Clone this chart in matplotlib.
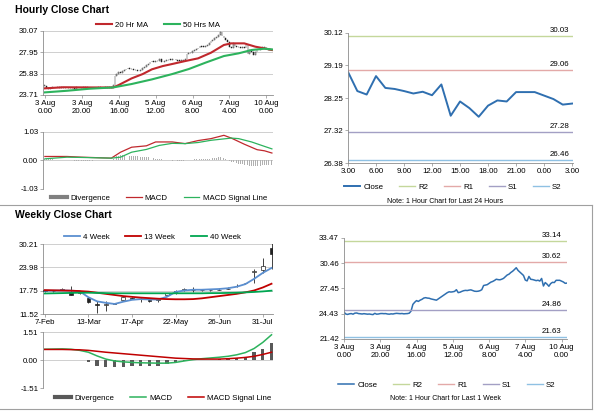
import numpy as np
import matplotlib
matplotlib.use("Agg")
from matplotlib import pyplot as plt
from matplotlib.lines import Line2D

plt.rcParams['font.family'] = ['Liberation Sans', 'DejaVu Sans']

# ---- hourly data (3 Aug 0.00 .. 10 Aug 3.00) ----
close = [
    24.62, 24.40, 24.35, 24.42, 24.45, 24.38, 24.50, 24.52, 24.45, 24.43,
    24.40, 24.44, 24.41, 24.38, 24.40, 24.36, 24.33, 24.48, 24.38, 24.40,
    24.45, 24.46, 24.44, 24.45, 24.40, 24.38, 24.42, 24.40, 24.45, 24.48,
    24.46, 24.44, 24.46, 24.42, 24.44, 24.45, 24.50, 24.75, 25.55, 25.80,
    26.00, 25.90, 26.05, 26.15, 26.30, 26.35, 26.30, 26.28, 26.20, 26.15,
    26.10, 26.05, 26.20, 26.35, 26.50, 26.65, 26.80, 26.95, 27.05, 27.02,
    27.05, 27.10, 27.30, 26.95, 27.00, 27.10, 27.18, 27.22, 27.20, 27.25,
    27.28, 27.20, 27.12, 27.10, 27.12, 27.18, 27.30, 27.80, 27.85, 27.90,
    28.05, 28.20, 28.28, 28.40, 28.55, 28.50, 28.48, 28.55, 28.65, 28.85,
    29.05, 29.15, 29.35, 29.50, 29.70, 29.92, 29.60, 29.40, 29.20, 29.00,
    28.45, 28.35, 28.88, 28.54, 28.51, 28.45, 28.38, 28.43, 28.33, 28.64,
    27.74, 28.15, 27.96, 27.71, 28.03, 28.18, 28.15, 28.42, 28.42, 28.42,
    28.32, 28.22, 28.06, 28.09]

ma20_x = [0, 10, 25, 37, 40, 47, 53, 58, 64, 69, 76, 83, 90, 97, 101, 108, 114, 119, 123]
ma20 = [24.37, 24.48, 24.46, 24.46, 24.70, 25.36, 25.79, 26.26, 26.59, 26.79,
        27.08, 27.35, 27.91, 28.68, 28.84, 28.84, 28.51, 28.34, 28.18]
ma50_x = [0, 12, 24, 37, 47, 58, 69, 78, 87, 97, 105, 112, 119, 123]
ma50 = [23.97, 24.13, 24.33, 24.46, 24.80, 25.26, 25.79, 26.29, 26.92, 27.58,
        27.85, 28.18, 28.31, 28.24]

h_macd_x = [0, 12, 20, 36, 41, 47, 55, 60, 69, 76, 83, 90, 97, 101, 108, 115, 119, 123]
h_macd = [0.145, 0.145, 0.12, 0.085, 0.30, 0.48, 0.53, 0.67, 0.67, 0.61, 0.72,
          0.79, 0.91, 0.81, 0.59, 0.39, 0.35, 0.27]
h_sig_x = [0, 12, 20, 36, 41, 47, 55, 62, 69, 76, 83, 90, 101, 105, 112, 119, 123]
h_sig = [0.06, 0.12, 0.11, 0.085, 0.12, 0.30, 0.40, 0.545, 0.62, 0.61, 0.65,
         0.73, 0.81, 0.79, 0.67, 0.51, 0.42]
h_div = [
    0.05, 0.05, 0.04, 0.04, 0.04, 0.03, 0.03, 0.03, 0.02, 0.02,
    0.02, 0.01, 0.01, 0.01, 0.0, 0.0, -0.01, -0.01, -0.02, -0.02,
    -0.02, -0.02, -0.01, -0.01, -0.01, -0.01, -0.01, 0.0, 0.0, 0.0,
    0.0, 0.0, 0.0, 0.0, 0.01, 0.01, 0.02, 0.06, 0.12, 0.16,
    0.18, 0.19, 0.19, 0.19, 0.18, 0.18, 0.17, 0.17, 0.16, 0.15,
    0.15, 0.14, 0.14, 0.13, 0.13, 0.12, 0.11, 0.10, 0.09, 0.08,
    0.07, 0.06, 0.05, 0.04, 0.03, 0.02, 0.01, 0.0, 0.0, -0.01,
    -0.01, -0.02, -0.02, -0.02, -0.01, -0.01, 0.0, 0.01, 0.02, 0.03,
    0.03, 0.04, 0.04, 0.05, 0.05, 0.05, 0.06, 0.06, 0.07, 0.07,
    0.08, 0.08, 0.09, 0.10, 0.11, 0.12, 0.11, 0.08, 0.05, 0.02,
    -0.01, -0.04, -0.06, -0.08, -0.10, -0.11, -0.12, -0.14, -0.15, -0.16,
    -0.18, -0.19, -0.20, -0.21, -0.21, -0.20, -0.20, -0.19, -0.18, -0.18,
    -0.17, -0.16, -0.16, -0.15]

h_ticks = [0, 20, 40, 60, 80, 100, 120]
h_labels = ['3 Aug\n0.00', '3 Aug\n20.00', '4 Aug\n16.00', '5 Aug\n12.00',
            '6 Aug\n8.00', '7 Aug\n4.00', '10 Aug\n0.00']

# last 24 hours
d_labels = ['3.00', '6.00', '9.00', '12.00', '15.00', '18.00', '21.00', '0.00', '3.00']
d_levels = {'R2': 30.03, 'R1': 29.06, 'S1': 27.28, 'S2': 26.46}
w_levels = {'R2': 33.14, 'R1': 30.62, 'S1': 24.86, 'S2': 21.63}

# ---- weekly data ----
w_open = [17.9, 17.6, 17.9, 17.5, 17.2, 15.9, 14.3, 14.0, 14.3, 15.3, 15.9, 15.4, 15.2, 15.3,
          16.6, 17.4, 17.8, 17.9, 17.8, 17.8, 17.9, 18.2, 19.0, 19.7, 22.8, 23.4, 29.1]
w_close = [17.6, 17.7, 18.3, 16.6, 17.3, 14.6, 14.0, 14.1, 14.4, 16.0, 15.5, 15.5, 15.1, 15.4,
           17.1, 17.6, 18.3, 18.0, 17.9, 17.9, 18.0, 18.3, 19.1, 19.8, 22.9, 24.4, 27.6]
w_high = [18.0, 17.8, 18.4, 18.9, 17.4, 16.0, 15.0, 15.0, 14.5, 16.1, 16.0, 15.9, 15.4, 15.5,
          17.2, 18.0, 18.4, 18.6, 18.0, 18.0, 18.4, 18.7, 19.5, 19.9, 23.5, 26.5, 30.5]
w_low = [17.5, 17.5, 17.8, 16.5, 16.9, 14.5, 11.9, 12.3, 14.2, 15.2, 15.4, 14.8, 14.8, 14.8,
         16.5, 16.8, 17.7, 17.5, 17.7, 17.7, 17.8, 18.1, 18.7, 19.6, 19.8, 22.5, 23.5]
ma4 = [17.75, 17.75, 17.8, 17.75, 17.6, 16.0, 14.9, 14.5, 14.2, 14.8, 15.3, 15.5, 15.4, 15.4,
       16.1, 17.4, 17.8, 18.0, 18.0, 18.1, 18.2, 18.4, 18.8, 19.5, 20.9, 22.5, 23.8]
ma13 = [17.9, 17.85, 17.8, 17.75, 17.65, 17.5, 17.2, 16.9, 16.6, 16.3, 16.1, 15.9, 15.75, 15.6,
        15.5, 15.45, 15.45, 15.5, 15.7, 16.0, 16.3, 16.6, 16.9, 17.3, 17.8, 18.6, 19.6]
ma40 = [17.0, 17.05, 17.1, 17.15, 17.2, 17.2, 17.15, 17.1, 17.05, 17.05, 17.05, 17.05, 17.05,
        17.05, 17.05, 17.05, 17.05, 17.05, 17.05, 17.1, 17.1, 17.15, 17.2, 17.3, 17.4, 17.55, 17.75]
w_macd = [0.58, 0.59, 0.60, 0.58, 0.52, 0.42, 0.22, 0.05, -0.05, -0.10, -0.13, -0.15, -0.16,
          -0.17, -0.17, -0.13, -0.05, 0.02, 0.07, 0.11, 0.15, 0.20, 0.28, 0.40, 0.62, 0.95, 1.36]
w_sig = [0.57, 0.57, 0.57, 0.56, 0.55, 0.52, 0.47, 0.42, 0.38, 0.34, 0.30, 0.26, 0.22, 0.18,
         0.14, 0.10, 0.08, 0.06, 0.05, 0.05, 0.05, 0.07, 0.10, 0.14, 0.20, 0.30, 0.42]
w_div = [0.02, 0.02, 0.02, 0.01, 0.0, -0.13, -0.31, -0.38, -0.40, -0.36, -0.33, -0.33, -0.31,
         -0.33, -0.22, -0.11, -0.04, 0.0, 0.01, 0.02, 0.04, 0.07, 0.11, 0.18, 0.44, 0.62, 0.90]
w_ticks = [0, 5, 10, 15, 20, 25]
w_labels = ['7-Feb', '13-Mar', '17-Apr', '22-May', '26-Jun', '31-Jul']

AX = '#8c8c8c'
GRID = '#c8c8c8'
FS = 5.7
RED = '#c0282d'
GREEN = '#2db35d'
BLUE = '#2f6fb0'
LVL_COL = {'R2': '#c4d79b', 'R1': '#e3a9a8', 'S1': '#a39fc4', 'S2': '#8fc1e3'}


def style(ax, grid=True):
    for s in ['top', 'right']:
        ax.spines[s].set_visible(False)
    for s in ['left', 'bottom']:
        ax.spines[s].set_color(AX)
        ax.spines[s].set_linewidth(0.6)
    ax.tick_params(labelsize=FS, length=2, width=0.5, color=AX, pad=1.5)
    if grid:
        ax.set_axisbelow(True)
        ax.yaxis.grid(True, color=GRID, lw=0.6)


def legend(ax, handles, labels, x, y):
    ax.legend(handles, labels, loc='center', bbox_to_anchor=(x, y), bbox_transform=fig.transFigure,
              ncol=len(handles), frameon=False, fontsize=FS, handlelength=2.0,
              handletextpad=0.4, columnspacing=2.0, borderpad=0)


fig = plt.figure(figsize=(6, 4.13), dpi=100)

fig.text(0.025, 0.976, 'Hourly Close Chart', fontsize=7.5, fontweight='bold', va='center')
fig.text(0.025, 0.479, 'Weekly Close Chart', fontsize=7.5, fontweight='bold', va='center')
fig.add_artist(Line2D([0, 0.987], [1 - 205 / 413] * 2, color='#a0a0a0', lw=0.8))
fig.add_artist(Line2D([0, 0.987], [1 - 409 / 413] * 2, color='#a0a0a0', lw=0.8))
fig.add_artist(Line2D([0.987, 0.987], [1 - 409 / 413, 1 - 205 / 413], color='#a0a0a0', lw=0.8))

# ---- hourly candles ----
x = np.arange(len(close))
c = np.array(close)
o = np.r_[c[0], c[:-1]]
ax = fig.add_axes([0.0717, 0.770, 0.383, 0.155])
style(ax)
up = c >= o
body = np.maximum(np.abs(c - o), 0.05)
ax.bar(x[up], body[up], bottom=np.minimum(o, c)[up], width=0.4, color='#e8e8e8',
       edgecolor='#333333', linewidth=0.35)
ax.bar(x[~up], body[~up], bottom=np.minimum(o, c)[~up], width=0.4, color='#222222',
       edgecolor='#222222', linewidth=0.35)
l1, = ax.plot(ma20_x, ma20, color=RED, lw=1.5)
l2, = ax.plot(ma50_x, ma50, color=GREEN, lw=1.5)
ax.set_ylim(23.71, 30.07)
ax.set_yticks([23.71, 25.83, 27.95, 30.07])
ax.set_yticklabels(['23.71', '25.83', '27.95', '30.07'])
ax.set_xlim(-1, 123.5)
ax.set_xticks(h_ticks)
ax.set_xticklabels(h_labels, linespacing=1.25)
legend(ax, [l1, l2], ['20 Hr MA', '50 Hrs MA'], 0.263, 0.9395)

# ---- hourly MACD ----
ax = fig.add_axes([0.0717, 0.5424, 0.383, 0.138])
style(ax)
ax.spines['bottom'].set_visible(False)
ax.bar(x, h_div, width=0.45, color='#b0b0b0')
l1, = ax.plot(h_macd_x, h_macd, color=RED, lw=0.9)
l2, = ax.plot(h_sig_x, h_sig, color=GREEN, lw=0.9)
ax.set_ylim(-1.03, 1.03)
ax.set_yticks([-1.03, 0, 1.03])
ax.set_yticklabels(['-1.03', '0.00', '1.03'])
ax.set_xlim(-1, 123.5)
ax.set_xticks([])
dv = Line2D([], [], color='#808080', lw=3)
legend(ax, [dv, l1, l2], ['Divergence', 'MACD', 'MACD Signal Line'], 0.265, 0.5206)

# ---- last 24 hours ----
ax = fig.add_axes([0.58, 0.6053, 0.375, 0.3148])
style(ax, grid=False)
day = close[-25:]
hl = []
lc, = ax.plot(range(len(day)), day, color=BLUE, lw=1.4)
hl.append(lc)
for k, v in d_levels.items():
    ln, = ax.plot([0, 24], [v, v], color=LVL_COL[k], lw=1.0)
    hl.append(ln)
    ax.annotate(f'{v:.2f}', xy=(0.94, v), xycoords=('axes fraction', 'data'), xytext=(0, 1.5),
                textcoords='offset points', ha='center', va='bottom', fontsize=FS)
ax.set_ylim(26.38, 30.12)
ax.set_yticks([26.38, 27.32, 28.25, 29.19, 30.12])
ax.set_yticklabels(['26.38', '27.32', '28.25', '29.19', '30.12'])
ax.set_xlim(0, 24.1)
ax.set_xticks(range(0, 25, 3))
ax.set_xticklabels(d_labels)
legend(ax, hl, ['Close', 'R2', 'R1', 'S1', 'S2'], 0.755, 0.547)
fig.text(0.742, 0.513, 'Note: 1 Hour Chart for Last 24 Hours', fontsize=5, ha='center', va='center')

# ---- weekly candles ----
wx = np.arange(len(w_close))
wo = np.array(w_open)
wc = np.array(w_close)
ax = fig.add_axes([0.0717, 0.2397, 0.383, 0.1695])
style(ax)
ax.vlines(wx, w_low, w_high, color='#222222', lw=0.6, zorder=2)
wup = wc >= wo
wbody = np.maximum(np.abs(wc - wo), 0.12)
ax.bar(wx[wup], wbody[wup], bottom=np.minimum(wo, wc)[wup], width=0.42, color='white',
       edgecolor='#222222', linewidth=0.5, zorder=3)
ax.bar(wx[~wup], wbody[~wup], bottom=np.minimum(wo, wc)[~wup], width=0.42, color='#222222',
       edgecolor='#222222', linewidth=0.5, zorder=3)
l1, = ax.plot(wx, ma4, color='#5b8fd0', lw=1.3, zorder=4)
l2, = ax.plot(wx, ma13, color='#c00000', lw=1.3, zorder=4)
l3, = ax.plot(wx, ma40, color='#00a651', lw=1.3, zorder=4)
ax.set_ylim(11.52, 30.21)
ax.set_yticks([11.52, 17.75, 23.98, 30.21])
ax.set_yticklabels(['11.52', '17.75', '23.98', '30.21'])
ax.set_xlim(-0.2, 26.15)
ax.set_xticks(w_ticks)
ax.set_xticklabels(w_labels)
legend(ax, [l1, l2, l3], ['4 Week', '13 Week', '40 Week'], 0.254, 0.426)

# ---- weekly MACD ----
ax = fig.add_axes([0.0717, 0.0605, 0.383, 0.1356])
style(ax)
ax.spines['bottom'].set_visible(False)
ax.bar(wx, w_div, width=0.38, color='#595959')
l1, = ax.plot(wx, w_macd, color='#2db35d', lw=1.1)
l2, = ax.plot(wx, w_sig, color='#c00000', lw=1.1)
ax.set_ylim(-1.51, 1.51)
ax.set_yticks([-1.51, 0, 1.51])
ax.set_yticklabels(['-1.51', '0.00', '1.51'])
ax.set_xlim(-0.2, 26.15)
ax.set_xticks([])
dv = Line2D([], [], color='#595959', lw=3)
legend(ax, [dv, l1, l2], ['Divergence', 'MACD', 'MACD Signal Line'], 0.272, 0.036)

# ---- last 1 week ----
ax = fig.add_axes([0.5733, 0.1792, 0.3717, 0.2446])
style(ax, grid=False)
hl = []
lc, = ax.plot(x, close, color=BLUE, lw=1.1)
hl.append(lc)
for k, v in w_levels.items():
    ln, = ax.plot([0, 123], [v, v], color=LVL_COL[k], lw=1.0)
    hl.append(ln)
    ax.annotate(f'{v:.2f}', xy=(0.93, v), xycoords=('axes fraction', 'data'), xytext=(0, 1.5),
                textcoords='offset points', ha='center', va='bottom', fontsize=FS)
ax.set_ylim(21.42, 33.47)
ax.set_yticks([21.42, 24.43, 27.45, 30.46, 33.47])
ax.set_yticklabels(['21.42', '24.43', '27.45', '30.46', '33.47'])
ax.set_xlim(0, 123)
ax.set_xticks(h_ticks)
ax.set_xticklabels(h_labels, linespacing=1.25)
legend(ax, hl, ['Close', 'R2', 'R1', 'S1', 'S2'], 0.745, 0.068)
fig.text(0.742, 0.036, 'Note: 1 Hour Chart for Last 1 Week', fontsize=5, ha='center', va='center')

fig.savefig('out.png', dpi=100)
